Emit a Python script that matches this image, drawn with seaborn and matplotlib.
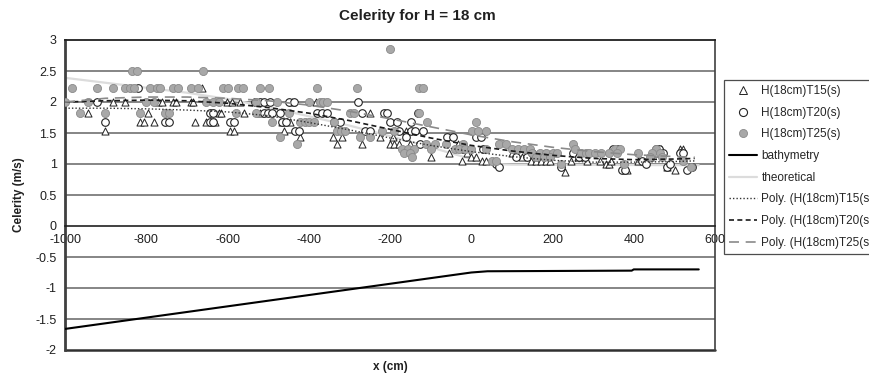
import numpy as np
import pandas as pd
import matplotlib
matplotlib.use("Agg")
import matplotlib.pyplot as plt
import seaborn as sns
from matplotlib.lines import Line2D

# ---------------- data ----------------
t15_x = [-943, -901, -881, -852, -815, -805, -795, -780, -770, -762, -733, -726, -691, -684, -681,
         -662, -654, -630, -622, -615, -602, -590, -593, -585, -570, -560, -519, -467, -462, -447,
         -441, -422, -383, -341, -331, -318, -269, -249, -225, -200, -193, -190, -178, -160, -150,
         -99, -54, -32, -22, -10, 0, 12, 27, 37, 100, 125, 148, 160, 172, 183, 193, 230, 245, 262,
         285, 316, 332, 340, 345, 383, 410, 440, 455, 468, 481, 501, 514, 521, 535]
t15_y = [1.82, 1.54, 2.0, 2.0, 1.67, 1.67, 1.82, 1.67, 2.0, 2.0, 2.0, 2.0, 2.0, 2.0, 1.67,
         2.22, 1.67, 1.67, 1.82, 1.82, 2.0, 2.0, 1.54, 1.54, 2.0, 1.82, 1.82, 1.67, 1.54, 1.67,
         2.0, 1.43, 2.0, 1.43, 1.33, 1.43, 1.33, 1.82, 1.43, 1.33, 1.43, 1.33, 1.33, 1.54, 1.33,
         1.11, 1.18, 1.33, 1.05, 1.18, 1.11, 1.11, 1.05, 1.05, 1.18, 1.11, 1.05, 1.05, 1.05, 1.05, 1.05, 0.87, 1.05, 1.11,
         1.05, 1.05, 1.0, 1.0, 1.05, 0.91, 1.05, 1.11, 1.18, 1.25, 0.95, 0.91, 1.25, 1.25, 0.95]

t20_x = [-921, -901, -820, -753, -743, -642, -635, -642, -635, -593, -583, -533, -521, -510, -496,
         -511, -500, -490, -472, -467, -457, -449, -437, -435, -425, -380, -368, -356, -338, -323,
         -279, -269, -262, -249, -215, -207, -200, -183, -178, -160, -148, -148, -138, -131, -126,
         -119, -60, -45, -20, 12, 25, 30, 62, 69, 111, 136, 150, 222, 250, 265, 280, 348, 360, 370,
         378, 420, 430, 455, 462, 472, 481, 490, 514, 520, 530, 543]
t20_y = [2.0, 1.67, 2.22, 1.67, 1.67, 1.82, 1.82, 1.67, 1.67, 1.67, 1.67, 2.0, 2.0, 2.0, 2.0,
         1.82, 1.82, 1.82, 1.82, 1.67, 1.67, 2.0, 2.0, 1.54, 1.54, 1.82, 1.82, 1.82, 1.67, 1.67,
         2.0, 1.82, 1.54, 1.54, 1.82, 1.82, 1.67, 1.67, 1.54, 1.43, 1.67, 1.54, 1.54, 1.82, 1.33,
         1.54, 1.43, 1.43, 1.25, 1.43, 1.43, 1.25, 1.0, 0.95, 1.11, 1.11, 1.18, 0.95, 1.18, 1.11, 1.11, 1.25, 1.25, 0.91,
         0.91, 1.05, 1.0, 1.25, 1.25, 1.18, 0.95, 1.0, 1.18, 1.18, 0.91, 0.95]

t25_x = [-200,
         -835, -822, -660,
         -983, -921, -881, -852, -840, -830, -790, -773, -765, -733, -721, -689, -672, -610, -600,
         -573, -563, -521, -499, -380, -281, -128, -118,
         -1000, -943, -800, -780, -652, -635, -622, -531, -479, -400, -373, -365, -356,
         -963, -901, -815, -753, -743, -580, -531, -449, -299, -289, -128,
         -491, -422, -410, -400, -388, -338, -108, 12,
         -331, -320, -311, -220, -190, 3, 17, 37,
         -470, -274, -249,
         -430, -111, -90, -62, -20, 69, 85, 250,
         -170, -155, -140, -100, -40, -30, -15, 0, 37, 101, 115, 130, 145, 255, 353, 365, 455,
         -165, -150, 150, 168, 185, 200, 210, 270, 283, 291, 305, 320, 340, 358, 410, 445, 465,
         -145, 160, 180, 195, 440, 470,
         52, 62, 520,
         222, 375, 540]
t25_y = [2.86,
         2.5, 2.5, 2.5,
         2.22, 2.22, 2.22, 2.22, 2.22, 2.22, 2.22, 2.22, 2.22, 2.22, 2.22, 2.22, 2.22, 2.22, 2.22,
         2.22, 2.22, 2.22, 2.22, 2.22, 2.22, 2.22, 2.22,
         2.0, 2.0, 2.0, 2.0, 2.0, 2.0, 2.0, 2.0, 2.0, 2.0, 2.0, 2.0, 2.0,
         1.82, 1.82, 1.82, 1.82, 1.82, 1.82, 1.82, 1.82, 1.82, 1.82, 1.82,
         1.67, 1.67, 1.67, 1.67, 1.67, 1.67, 1.67, 1.67,
         1.54, 1.54, 1.54, 1.54, 1.54, 1.54, 1.54, 1.54,
         1.43, 1.43, 1.43,
         1.33, 1.33, 1.33, 1.33, 1.33, 1.33, 1.33, 1.33,
         1.25, 1.25, 1.25, 1.25, 1.25, 1.25, 1.25, 1.25, 1.25, 1.25, 1.25, 1.25, 1.25, 1.25, 1.25, 1.25, 1.25,
         1.18, 1.18, 1.18, 1.18, 1.18, 1.18, 1.18, 1.18, 1.18, 1.18, 1.18, 1.18, 1.18, 1.18, 1.18, 1.18, 1.18,
         1.11, 1.11, 1.11, 1.11, 1.11, 1.11,
         1.05, 1.05, 1.05,
         1.0, 1.0, 0.95]

bathy_x = [-1000, 0, 40, 395, 400, 560]
bathy_y = [-1.66, -0.75, -0.73, -0.72, -0.70, -0.70]

theo_x = [-1000, -900, -800, -700, -600, -500, -400, -300, -200, -100, 0, 50, 100, 560]
theo_y = [2.39, 2.31, 2.23, 2.15, 2.05, 1.92, 1.77, 1.62, 1.45, 1.27, 1.08, 1.0, 0.99, 0.98]

trend_x = [-1000, -900, -800, -700, -600, -500, -400, -300, -200, -100, 0, 100, 200, 300, 400, 500, 550]
trend15_y = [1.90, 1.90, 1.89, 1.87, 1.84, 1.78, 1.67, 1.55, 1.42, 1.30, 1.20, 1.12, 1.06, 1.03, 1.03, 1.04, 1.05]
trend20_y = [2.00, 2.02, 2.03, 2.02, 1.98, 1.91, 1.82, 1.70, 1.56, 1.42, 1.30, 1.21, 1.14, 1.09, 1.07, 1.08, 1.09]
trend25_y = [2.00, 2.06, 2.08, 2.08, 2.06, 2.02, 1.95, 1.85, 1.73, 1.60, 1.47, 1.36, 1.27, 1.20, 1.15, 1.12, 1.11]

labels = ["H(18cm)T15(s)", "H(18cm)T20(s)", "H(18cm)T25(s)", "bathymetry", "theoretical",
          "Poly. (H(18cm)T15(s))", "Poly. (H(18cm)T20(s))", "Poly. (H(18cm)T25(s))"]
x_ticks = [-1000, -800, -600, -400, -200, 0, 200, 400, 600]
y_ticks = [-2, -1.5, -1, -0.5, 0, 0.5, 1, 1.5, 2, 2.5, 3]

# ---------------- style ----------------
sns.set_style("white")
plt.rcParams['font.family'] = ['Liberation Sans', 'DejaVu Sans']

W, H = 869, 373
fig = plt.figure(figsize=(W / 100, H / 100), dpi=100)
L, R, T, B = 65, 715, 40, 350
ax = fig.add_axes([L / W, 1 - B / H, (R - L) / W, (B - T) / H])

# grid
for yv in y_ticks:
    if yv not in (0, 3, -2):
        ax.axhline(yv, color="#858585", lw=1.4, zorder=0)

df15 = pd.DataFrame({"x": t15_x, "y": t15_y})
df20 = pd.DataFrame({"x": t20_x, "y": t20_y})
df25 = pd.DataFrame({"x": t25_x, "y": t25_y})

sns.scatterplot(data=df15, x="x", y="y", ax=ax, marker="^", s=26, facecolor="white",
                edgecolor="#222222", linewidth=0.7, zorder=3, legend=False)
sns.scatterplot(data=df20, x="x", y="y", ax=ax, marker="o", s=30, facecolor="white",
                edgecolor="#222222", linewidth=0.8, zorder=3, legend=False)
sns.scatterplot(data=df25, x="x", y="y", ax=ax, marker="o", s=34, facecolor="#a8a8a8",
                edgecolor="#8a8a8a", linewidth=0.6, zorder=3, legend=False)

sns.lineplot(x=bathy_x, y=bathy_y, ax=ax, color="black", lw=1.5, sort=False, estimator=None, zorder=4)
sns.lineplot(x=theo_x, y=theo_y, ax=ax, color="#dcdcdc", lw=1.6, sort=False, estimator=None, zorder=2)
sns.lineplot(x=trend_x, y=trend15_y, ax=ax, color="#333333", lw=1.0, sort=False, estimator=None,
             zorder=5, linestyle=(0, (1, 1.5)))
sns.lineplot(x=trend_x, y=trend20_y, ax=ax, color="#1a1a1a", lw=1.2, sort=False, estimator=None,
             zorder=5, linestyle=(0, (3, 2)))
sns.lineplot(x=trend_x, y=trend25_y, ax=ax, color="#8a8a8a", lw=1.2, sort=False, estimator=None,
             zorder=5, linestyle=(0, (6, 4)))

ax.set_xlim(-1000, 600)
ax.set_ylim(-2, 3)

# axes frame
for s in ["top", "right", "left", "bottom"]:
    ax.spines[s].set_visible(True)
ax.spines["left"].set_color("#404040")
ax.spines["left"].set_linewidth(2.0)
ax.spines["top"].set_color("#202020")
ax.spines["top"].set_linewidth(1.3)
ax.spines["right"].set_color("#404040")
ax.spines["right"].set_linewidth(1.2)
ax.spines["bottom"].set_position(("data", 0))
ax.spines["bottom"].set_color("#202020")
ax.spines["bottom"].set_linewidth(1.2)
ax.axhline(-2, color="#303030", lw=1.8, zorder=1, clip_on=False)

ax.set_xticks(x_ticks)
ax.set_xticklabels([str(v) for v in x_ticks])
ax.set_yticks(y_ticks)
ax.set_yticklabels([f"{v:g}" for v in y_ticks])
ax.tick_params(axis="x", direction="in", length=4, width=1, pad=6, labelsize=9, colors="#202020")
ax.tick_params(axis="y", direction="out", length=3, width=1, pad=3, labelsize=9, colors="#202020")

ax.set_xlabel("x (cm)", fontsize=8.5, fontweight="bold", color="#202020")
ax.set_ylabel("Celerity (m/s)", fontsize=8.5, fontweight="bold", color="#202020")
ax.xaxis.set_label_coords(0.5, -0.035)
ax.yaxis.set_label_coords(-0.062, 0.5)

fig.text(417 / W, 1 - 16 / H, "Celerity for H = 18 cm", ha="center", va="center",
         fontsize=11, fontweight="bold", color="#202020")

# legend
handles = [
    Line2D([], [], ls="none", marker="^", ms=5.5, mfc="white", mec="#222222", mew=0.7),
    Line2D([], [], ls="none", marker="o", ms=5.8, mfc="white", mec="#222222", mew=0.8),
    Line2D([], [], ls="none", marker="o", ms=5.8, mfc="#a8a8a8", mec="#8a8a8a", mew=0.6),
    Line2D([], [], color="black", lw=1.5),
    Line2D([], [], color="#dcdcdc", lw=1.6),
    Line2D([], [], color="#333333", lw=1.0, ls=(0, (1, 1.5))),
    Line2D([], [], color="#1a1a1a", lw=1.2, ls=(0, (3, 2))),
    Line2D([], [], color="#8a8a8a", lw=1.2, ls=(0, (6, 4))),
]
leg = fig.legend(handles, labels, loc="upper left", bbox_to_anchor=(724 / W, 1 - 80 / H),
                 borderaxespad=0, fontsize=8.5, frameon=True, fancybox=False,
                 edgecolor="#202020", handlelength=2.4, handletextpad=0.35,
                 labelspacing=0.82, borderpad=0.42)
leg.get_frame().set_linewidth(0.9)

fig.savefig("out.png", dpi=100)
